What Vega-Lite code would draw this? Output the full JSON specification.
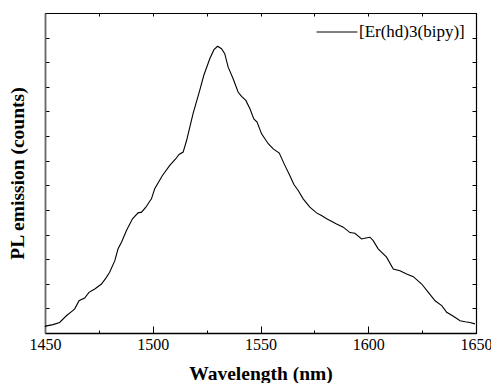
{
  "$schema": "https://vega.github.io/schema/vega-lite/v6.json",
  "width": 431,
  "height": 320,
  "autosize": {"type": "none"},
  "padding": {"left": 45, "top": 13, "right": 15, "bottom": 50},
  "background": "white",
  "config": {
    "view": {"stroke": "black", "strokeWidth": 1},
    "font": "Times New Roman, Liberation Serif, serif",
    "axis": {
      "domainColor": "black",
      "tickColor": "black",
      "grid": false,
      "labelFont": "Times New Roman, Liberation Serif, serif",
      "titleFont": "Times New Roman, Liberation Serif, serif",
      "labelColor": "black",
      "titleColor": "black"
    },
    "legend": {
      "labelFont": "Times New Roman, Liberation Serif, serif"
    }
  },
  "data": {
    "values": [
      {"wavelength": 1450.0, "counts": 25},
      {"wavelength": 1450.3, "counts": 28},
      {"wavelength": 1453.7, "counts": 34},
      {"wavelength": 1456.8, "counts": 43},
      {"wavelength": 1459.9, "counts": 70},
      {"wavelength": 1462.3, "counts": 87},
      {"wavelength": 1463.8, "counts": 98},
      {"wavelength": 1465.8, "counts": 131},
      {"wavelength": 1468.4, "counts": 142},
      {"wavelength": 1470.4, "counts": 165},
      {"wavelength": 1473.1, "counts": 179},
      {"wavelength": 1476.2, "counts": 199},
      {"wavelength": 1478.5, "counts": 226},
      {"wavelength": 1480.0, "counts": 247},
      {"wavelength": 1482.4, "counts": 294},
      {"wavelength": 1483.9, "counts": 342},
      {"wavelength": 1485.5, "counts": 369},
      {"wavelength": 1487.8, "counts": 416},
      {"wavelength": 1490.6, "counts": 464},
      {"wavelength": 1493.2, "counts": 488},
      {"wavelength": 1494.8, "counts": 491},
      {"wavelength": 1496.8, "counts": 511},
      {"wavelength": 1498.6, "counts": 535},
      {"wavelength": 1499.4, "counts": 545},
      {"wavelength": 1500.9, "counts": 586},
      {"wavelength": 1504.5, "counts": 640},
      {"wavelength": 1507.9, "counts": 681},
      {"wavelength": 1510.7, "counts": 708},
      {"wavelength": 1512.2, "counts": 725},
      {"wavelength": 1514.1, "counts": 735},
      {"wavelength": 1515.7, "counts": 782},
      {"wavelength": 1518.7, "counts": 891},
      {"wavelength": 1521.8, "counts": 986},
      {"wavelength": 1523.7, "counts": 1047},
      {"wavelength": 1526.5, "counts": 1115},
      {"wavelength": 1528.4, "counts": 1151},
      {"wavelength": 1530.1, "counts": 1165},
      {"wavelength": 1531.9, "counts": 1155},
      {"wavelength": 1533.4, "counts": 1135},
      {"wavelength": 1535.0, "counts": 1080},
      {"wavelength": 1537.3, "counts": 1033},
      {"wavelength": 1539.6, "counts": 979},
      {"wavelength": 1541.2, "counts": 961},
      {"wavelength": 1543.2, "counts": 945},
      {"wavelength": 1545.1, "counts": 911},
      {"wavelength": 1546.9, "counts": 870},
      {"wavelength": 1548.4, "counts": 857},
      {"wavelength": 1550.5, "counts": 809},
      {"wavelength": 1553.6, "counts": 769},
      {"wavelength": 1555.9, "counts": 748},
      {"wavelength": 1558.7, "counts": 731},
      {"wavelength": 1561.3, "counts": 681},
      {"wavelength": 1563.6, "counts": 640},
      {"wavelength": 1565.5, "counts": 603},
      {"wavelength": 1567.5, "counts": 579},
      {"wavelength": 1569.8, "counts": 545},
      {"wavelength": 1572.9, "counts": 511},
      {"wavelength": 1576.0, "counts": 488},
      {"wavelength": 1578.3, "counts": 477},
      {"wavelength": 1580.7, "counts": 464},
      {"wavelength": 1585.3, "counts": 443},
      {"wavelength": 1588.4, "counts": 430},
      {"wavelength": 1591.5, "counts": 408},
      {"wavelength": 1593.8, "counts": 405},
      {"wavelength": 1596.9, "counts": 382},
      {"wavelength": 1598.9, "counts": 386},
      {"wavelength": 1600.8, "counts": 389},
      {"wavelength": 1602.3, "counts": 375},
      {"wavelength": 1604.6, "counts": 342},
      {"wavelength": 1608.5, "counts": 308},
      {"wavelength": 1611.6, "counts": 260},
      {"wavelength": 1614.7, "counts": 253},
      {"wavelength": 1617.8, "counts": 240},
      {"wavelength": 1620.9, "counts": 229},
      {"wavelength": 1624.8, "counts": 199},
      {"wavelength": 1627.9, "counts": 165},
      {"wavelength": 1631.0, "counts": 131},
      {"wavelength": 1634.1, "counts": 111},
      {"wavelength": 1636.4, "counts": 84},
      {"wavelength": 1639.5, "counts": 68},
      {"wavelength": 1642.6, "counts": 50},
      {"wavelength": 1644.9, "counts": 46},
      {"wavelength": 1647.2, "counts": 43},
      {"wavelength": 1649.5, "counts": 37}
    ]
  },
  "layer": [
    {
      "mark": {"type": "line", "strokeWidth": 1.1},
      "encoding": {
        "x": {
          "field": "wavelength",
          "type": "quantitative",
          "scale": {"domain": [1450, 1650], "nice": false, "zero": false},
          "axis": {
            "orient": "bottom",
            "title": "Wavelength (nm)",
            "titleFontSize": 19.5,
            "titleFontWeight": "bold",
            "titlePadding": 8,
            "values": [1450, 1475, 1500, 1525, 1550, 1575, 1600, 1625, 1650],
            "format": "d",
            "labelExpr": "datum.value % 50 === 0 ? datum.label : ''",
            "labelFontSize": 16,
            "labelPadding": 10,
            "labelFlush": false,
            "labelOverlap": false,
            "tickSize": {"condition": {"test": "datum.value % 50 === 0", "value": -7}, "value": -3},
            "domainWidth": 1.3
          }
        },
        "y": {
          "field": "counts",
          "type": "quantitative",
          "scale": {"domain": [0, 1300], "nice": false},
          "axis": {
            "orient": "left",
            "title": "PL emission (counts)",
            "titleFontSize": 19.5,
            "titleFontWeight": "bold",
            "titlePadding": 17,
            "labels": false,
            "values": [0, 100, 200, 300, 400, 500, 600, 700, 800, 900, 1000, 1100, 1200, 1300],
            "tickSize": -4,
            "domainColor": "#666666",
            "domainWidth": 1.8
          }
        },
        "color": {
          "datum": "[Er(hd)3(bipy)]",
          "scale": {"range": ["black"]},
          "legend": {
            "orient": "none",
            "legendX": 271,
            "legendY": -2,
            "title": null,
            "symbolType": "stroke",
            "symbolSize": 1667,
            "symbolStrokeWidth": 1,
            "symbolStrokeColor": "black",
            "labelFont": "Times New Roman, Liberation Serif, serif",
            "labelFontSize": 17,
            "labelColor": "black",
            "labelOffset": 1
          }
        }
      }
    },
    {
      "mark": {"type": "line", "opacity": 0},
      "encoding": {
        "x": {
          "field": "wavelength",
          "type": "quantitative",
          "axis": {
            "orient": "top",
            "title": null,
            "labels": false,
            "values": [1450, 1475, 1500, 1525, 1550, 1575, 1600, 1625, 1650],
            "tickSize": -3,
            "domainColor": "black",
            "domainWidth": 1
          }
        },
        "y": {
          "field": "counts",
          "type": "quantitative",
          "axis": {
            "orient": "right",
            "title": null,
            "labels": false,
            "values": [0, 100, 200, 300, 400, 500, 600, 700, 800, 900, 1000, 1100, 1200, 1300],
            "tickSize": -4,
            "domainColor": "black",
            "domainWidth": 1.2
          }
        }
      }
    }
  ],
  "resolve": {"axis": {"x": "independent", "y": "independent"}}
}
